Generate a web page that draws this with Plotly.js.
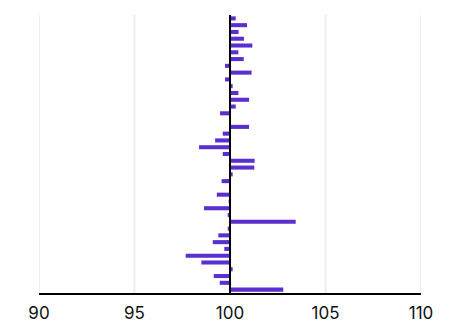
<!DOCTYPE html>
<html>
<head>
<meta charset="utf-8">
<script src="https://cdn.plot.ly/plotly-3.0.1.min.js"></script>
<style>html,body{margin:0;padding:0;background:#fff;}#chart{width:465px;height:325px;}</style>
</head>
<body>
<div id="chart"></div>
<script>
// Deviation of each row from the base value (top row first)
const baseValue = 100;
const rowIndex = Array.from({length: 41}, (_, i) => i);
const deviations = [
  0.30, 0.89, 0.45, 0.73, 1.17, 0.44, 0.72, -0.26, 1.13, -0.26,
  0.14, 0.44, 1.00, 0.30, -0.52, 0.00, 1.00, -0.38, -0.78, -1.62,
  -0.38, 1.29, 1.27, 0.14, -0.44, 0.00, -0.69, -0.07, -1.36, -0.12,
  3.44, -0.12, -0.61, -0.90, -0.30, -2.32, -1.50, 0.14, -0.85, -0.54,
  2.79
];
const xTicks = [90, 95, 100, 105, 110];

const trace = {
  type: 'bar',
  orientation: 'h',
  y: rowIndex,
  x: deviations,
  base: baseValue,
  width: 0.6,
  marker: {color: '#5b2ed0', line: {width: 0}},
  hoverinfo: 'none'
};

const gridShapes = xTicks.filter(v => v !== baseValue).map(v => ({
  type: 'line', xref: 'x', yref: 'paper', layer: 'below',
  x0: v, x1: v, y0: 0, y1: 1,
  line: {color: '#eeeeee', width: 2}
}));

const layout = {
  width: 465, height: 325,
  margin: {l: 39, r: 44, t: 15, b: 32, pad: 0},
  paper_bgcolor: '#ffffff', plot_bgcolor: '#ffffff',
  showlegend: false,
  font: {family: 'Inter, "Open Sans", sans-serif', color: '#111111'},
  xaxis: {
    range: [90, 110],
    tickvals: xTicks,
    ticktext: xTicks.map(String),
    tickfont: {size: 17, color: '#111111'},
    showgrid: false,
    zeroline: false,
    showline: true, linecolor: '#000000', linewidth: 2,
    ticks: 'outside', ticklen: 4, tickcolor: 'rgba(0,0,0,0)',
    fixedrange: true
  },
  yaxis: {
    range: [40.5, -0.5],
    showticklabels: false, showgrid: false, zeroline: false,
    showline: false, ticks: '', fixedrange: true
  },
  shapes: gridShapes.concat([{
    type: 'line', xref: 'x', yref: 'paper',
    x0: baseValue, x1: baseValue, y0: 0, y1: 1,
    line: {color: '#000000', width: 2}
  }])
};

Plotly.newPlot('chart', [trace], layout, {displayModeBar: false, staticPlot: true});
</script>
</body>
</html>
